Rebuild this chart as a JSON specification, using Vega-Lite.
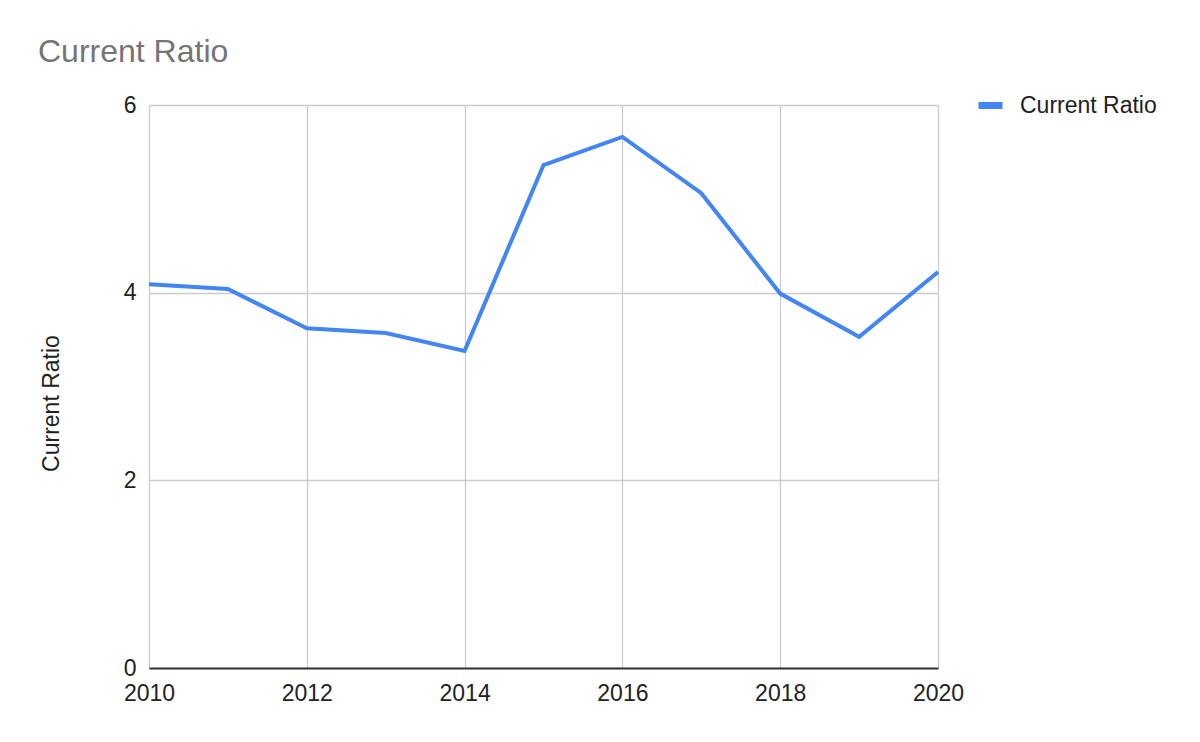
{
  "$schema": "https://vega.github.io/schema/vega-lite/v6.json",
  "autosize": "none",
  "width": 789,
  "height": 563,
  "padding": {"left": 149, "top": 105, "right": 262, "bottom": 74},
  "background": "white",
  "title": {
    "text": "Current Ratio",
    "anchor": "start",
    "frame": "group",
    "dx": -111,
    "fontSize": 32,
    "font": "Liberation Sans",
    "fontWeight": "normal",
    "color": "#757575",
    "offset": 21
  },
  "config": {
    "view": {"stroke": null},
    "font": "Liberation Sans"
  },
  "data": {
    "values": [
      {"Year": 2010, "Series": "Current Ratio", "Value": 4.09},
      {"Year": 2011, "Series": "Current Ratio", "Value": 4.04},
      {"Year": 2012, "Series": "Current Ratio", "Value": 3.62},
      {"Year": 2013, "Series": "Current Ratio", "Value": 3.57},
      {"Year": 2014, "Series": "Current Ratio", "Value": 3.38},
      {"Year": 2015, "Series": "Current Ratio", "Value": 5.36},
      {"Year": 2016, "Series": "Current Ratio", "Value": 5.66},
      {"Year": 2017, "Series": "Current Ratio", "Value": 5.06},
      {"Year": 2018, "Series": "Current Ratio", "Value": 3.99},
      {"Year": 2019, "Series": "Current Ratio", "Value": 3.53},
      {"Year": 2020, "Series": "Current Ratio", "Value": 4.22}
    ]
  },
  "mark": {"type": "line", "strokeWidth": 4, "strokeJoin": "miter"},
  "encoding": {
    "x": {
      "field": "Year",
      "type": "quantitative",
      "scale": {"domain": [2010, 2020], "nice": false, "zero": false},
      "axis": {
        "values": [2010, 2012, 2014, 2016, 2018, 2020],
        "format": "d",
        "title": null,
        "grid": true,
        "gridColor": "#cccccc",
        "gridWidth": 1.3,
        "domain": true,
        "domainColor": "#333333",
        "domainWidth": 2,
        "ticks": false,
        "labelFontSize": 23,
        "labelColor": "#222222",
        "labelPadding": 14,
        "labelFlush": false
      }
    },
    "y": {
      "field": "Value",
      "type": "quantitative",
      "scale": {"domain": [0, 6], "nice": false},
      "axis": {
        "values": [0, 2, 4, 6],
        "title": "Current Ratio",
        "titleFontSize": 23,
        "titleFontWeight": "normal",
        "titleColor": "#222222",
        "titleAngle": 270,
        "titleBaseline": "middle",
        "titleAnchor": "middle",
        "titleX": -98,
        "titleY": 298,
        "grid": true,
        "gridColor": "#cccccc",
        "gridWidth": 1.3,
        "domain": false,
        "ticks": false,
        "labelFontSize": 23,
        "labelColor": "#222222",
        "labelPadding": 13
      }
    },
    "color": {
      "field": "Series",
      "type": "nominal",
      "scale": {"range": ["#4285F4"]},
      "legend": {
        "title": null,
        "orient": "none",
        "legendX": 826,
        "legendY": -15,
        "symbolType": "stroke",
        "symbolSize": 576,
        "symbolStrokeWidth": 7,
        "labelFontSize": 23,
        "labelColor": "#222222",
        "labelOffset": 14
      }
    }
  }
}
